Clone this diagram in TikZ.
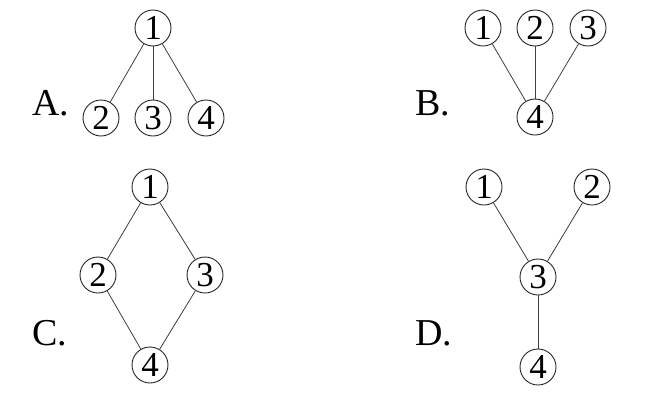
\documentclass[tikz,border=0pt]{standalone}
\usepackage{fontspec}
\setmainfont{Liberation Serif}
\begin{document}
\begin{tikzpicture}[x=1pt,y=-1pt,
  vtx/.style={circle,draw=black!85,line width=0.9pt,minimum size=36pt,inner sep=0pt,font=\fontsize{35}{37}\selectfont},
  lbl/.style={anchor=base west,inner sep=0pt,font=\fontsize{38}{40}\selectfont},
  edge/.style={draw=black!75,line width=0.8pt}]
\useasboundingbox[fill=white] (0,0) rectangle (656,402);
% A
\node[lbl] (la) at (32,115) {A.};
\node[vtx] (a1) at (153,28) {1};
\node[vtx] (a2) at (101,118) {2};
\node[vtx] (a3) at (153,118) {3};
\node[vtx] (a4) at (206,118) {4};
\draw[edge] (a1) -- (a2);
\draw[edge] (a1) -- (a3);
\draw[edge] (a1) -- (a4);
% B
\node[lbl] (lb) at (415,115) {B.};
\node[vtx] (b1) at (483,28) {1};
\node[vtx] (b2) at (535,28) {2};
\node[vtx] (b3) at (588,28) {3};
\node[vtx] (b4) at (535,117) {4};
\draw[edge] (b1) -- (b4);
\draw[edge] (b2) -- (b4);
\draw[edge] (b3) -- (b4);
% C
\node[lbl] (lc) at (32,345) {C.};
\node[vtx] (c1) at (150,187) {1};
\node[vtx] (c2) at (98,275) {2};
\node[vtx] (c3) at (205,275) {3};
\node[vtx] (c4) at (150,365) {4};
\draw[edge] (c1) -- (c2);
\draw[edge] (c1) -- (c3);
\draw[edge] (c2) -- (c4);
\draw[edge] (c3) -- (c4);
% D
\node[lbl] (ld) at (415,345) {D.};
\node[vtx] (d1) at (484,187) {1};
\node[vtx] (d2) at (592,187) {2};
\node[vtx] (d3) at (538,277) {3};
\node[vtx] (d4) at (538,367) {4};
\draw[edge] (d1) -- (d3);
\draw[edge] (d2) -- (d3);
\draw[edge] (d3) -- (d4);
\end{tikzpicture}
\end{document}
